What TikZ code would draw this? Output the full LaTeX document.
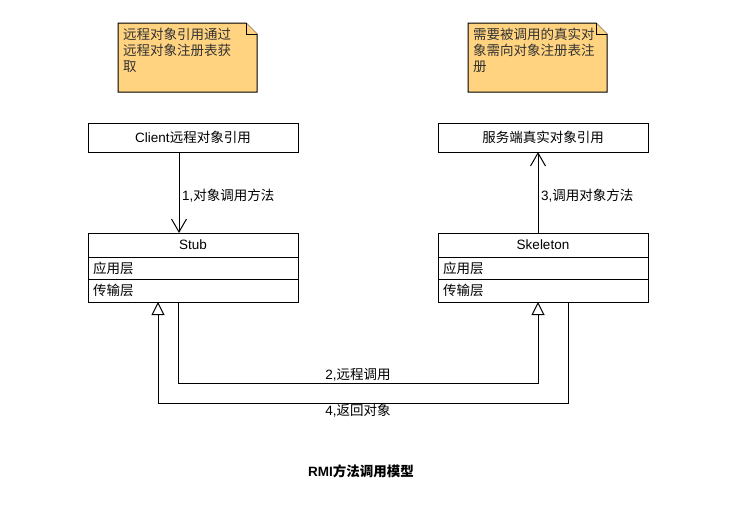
\documentclass[tikz,border=0pt]{standalone}
\usepackage{fontspec}
\setmainfont{Liberation Sans}
\newfontfamily\cjk{Noto Sans CJK SC}
\usetikzlibrary{arrows.meta,calc}
\definecolor{notefill}{RGB}{255,211,128}
\tikzset{
  base/.style={font=\fontsize{13.5}{16}\selectfont, inner sep=0pt, outer sep=0pt},
  box/.style={base, draw, line width=1pt, fill=white, minimum width=210pt, anchor=north west},
  rowbox/.style={box, text width=200pt, align=left},
  lbl/.style={base},
  notebody/.style={draw, line width=1pt, fill=notefill},
  call/.style={draw, line width=1pt, -{Straight Barb[length=13pt,width=15pt,line width=1pt]}},
  inherit/.style={draw, line width=1pt, -{Triangle[open,length=13pt,width=13pt,line width=1pt]}},
}
\begin{document}
\begin{tikzpicture}[x=1pt,y=-1pt]
\useasboundingbox (0,0) rectangle (749,522);

% sticky notes
\path[notebody] (118,23) -- (246,23) -- (257,34) -- (257,92) -- (118,92) -- cycle;
\path[notebody] (246,23) -- (246,34) -- (257,34);
\node[lbl, anchor=north west, align=left, text=black!80] (noteL) at (123,28)
  {\cjk 远程对象引用通过\\\cjk 远程对象注册表获\\\cjk 取};

\path[notebody] (468,23) -- (596,23) -- (607,34) -- (607,92) -- (468,92) -- cycle;
\path[notebody] (596,23) -- (596,34) -- (607,34);
\node[lbl, anchor=north west, align=left, text=black!80] (noteR) at (473,28)
  {\cjk 需要被调用的真实对\\\cjk 象需向对象注册表注\\\cjk 册};

% client side
\node[box, minimum height=29pt] (client) at (88,123) {Client{\cjk 远程对象引用}};
\node[box, minimum height=24pt] (stub) at (88,233) {Stub};
\node[rowbox, minimum height=22pt] (stubA) at (stub.south west) {\cjk 应用层};
\node[rowbox, minimum height=23pt] (stubT) at (stubA.south west) {\cjk 传输层};

% server side
\node[box, minimum height=29pt] (server) at (438,123) {\cjk 服务端真实对象引用};
\node[box, minimum height=24pt] (skel) at (438,233) {Skeleton};
\node[rowbox, minimum height=22pt] (skelA) at (skel.south west) {\cjk 应用层};
\node[rowbox, minimum height=23pt] (skelT) at (skelA.south west) {\cjk 传输层};

% connector routing points
\coordinate (xa) at (179,0);
\coordinate (xb) at (538,0);
\coordinate (c2a) at (178,383);
\coordinate (c2b) at (538,383);
\coordinate (c4a) at (568,403);
\coordinate (c4b) at (158,403);

% method calls
\draw[call] (client.south -| xa) -- (stub.north -| xa);
\node[lbl, anchor=west] (l1) at (182,196) {1,{\cjk 对象调用方法}};
\draw[call] (skel.north -| xb) -- (server.south -| xb);
\node[lbl, anchor=west] (l3) at (541,196) {3,{\cjk 调用对象方法}};

% transport links
\draw[inherit] (stubT.south -| c2a) -- (c2a) -- (c2b) -- (skelT.south -| c2b);
\node[lbl] (l2) at (358,375) {2,{\cjk 远程调用}};
\draw[inherit] (skelT.south -| c4a) -- (c4a) -- (c4b) -- (stubT.south -| c4b);
\node[lbl] (l4) at (358,411) {4,{\cjk 返回对象}};

% caption
\node[lbl] (title) at (361,471) {\bfseries RMI{\cjk 方法调用模型}};
\end{tikzpicture}
\end{document}
